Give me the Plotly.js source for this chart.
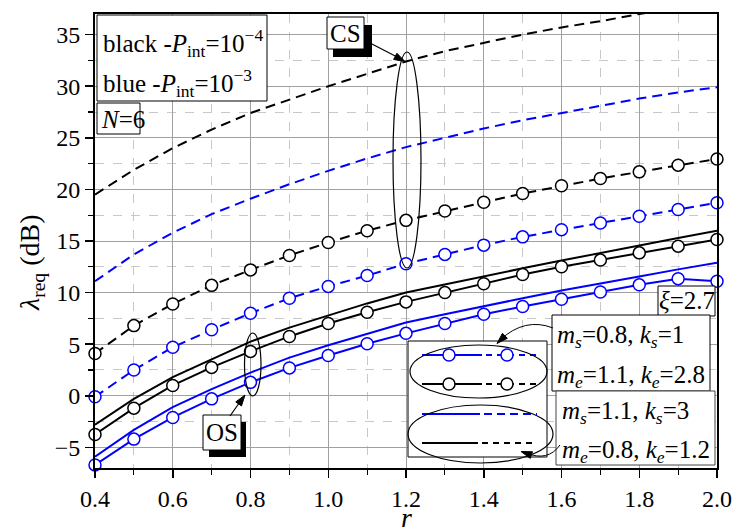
<!DOCTYPE html>
<html>
<head>
<meta charset="utf-8">
<script src="https://cdn.plot.ly/plotly-3.0.1.min.js"></script>
<style>html,body{margin:0;padding:0;background:#fff;}#chart{width:732px;height:532px;}</style>
</head>
<body>
<div id="chart"></div>
<script>
// ---- data ----
const r = [0.4,0.5,0.6,0.7,0.8,0.9,1.0,1.1,1.2,1.3,1.4,1.5,1.6,1.7,1.8,1.9,2.0];
// CS (dashed), m_s=1.1,k_s=3 / m_e=0.8,k_e=1.2 (no markers)
const csBlack = [19.5,21.9,24.0,25.8,27.4,28.7,30.0,31.2,32.4,33.4,34.2,35.0,35.7,36.3,37.0,37.6,38.2];
const csBlue  = [11.1,13.7,15.8,17.6,19.1,20.5,21.8,23.0,24.1,25.0,25.9,26.7,27.4,28.1,28.8,29.4,29.9];
// CS (dashed), m_s=0.8,k_s=1 / m_e=1.1,k_e=2.8 (circles)
const csBlackM = [4.1,6.8,8.9,10.7,12.2,13.6,14.85,16.0,17.0,17.9,18.75,19.6,20.35,21.05,21.7,22.35,22.95];
const csBlueM  = [-0.1,2.5,4.7,6.4,8.0,9.45,10.6,11.65,12.8,13.7,14.6,15.4,16.1,16.75,17.4,18.05,18.7];
// OS (solid)
const osBlack  = [-2.8,-0.3,1.8,3.55,5.25,6.6,7.8,8.95,10.0,10.8,11.6,12.35,13.1,13.85,14.6,15.3,16.0];
const osBlackM = [-3.75,-1.2,1.0,2.75,4.3,5.75,7.0,8.1,9.1,10.0,10.85,11.75,12.5,13.15,13.85,14.5,15.15];
const osBlue   = [-5.9,-3.3,-1.1,0.65,2.25,3.7,4.9,6.0,7.1,7.9,8.7,9.45,10.2,10.85,11.55,12.25,12.9];
const osBlueM  = [-6.7,-4.2,-2.1,-0.3,1.3,2.7,3.9,5.05,6.05,7.0,7.9,8.65,9.35,10.05,10.75,11.35,11.1];

const BLUE = '#0000ff', BLACK = '#000000';
const FONT = 'Liberation Serif';
const DASH = '10px,6px';

// ---- layout geometry helpers (pixel -> paper) ----
const L = 95, T = 14, W = 622, H = 454;
const px = x => (x - L) / W;
const py = y => (T + H - y) / H;

function mk(color) {
  return {symbol:'circle', size:12, color:'#ffffff', line:{color:color, width:1.5}};
}
const traces = [
  {x:r, y:csBlack, mode:'lines', line:{color:BLACK, width:2, dash:DASH}},
  {x:r, y:csBlue, mode:'lines', line:{color:BLUE, width:2, dash:DASH}},
  {x:r, y:osBlack, mode:'lines', line:{color:BLACK, width:2}},
  {x:r, y:osBlue, mode:'lines', line:{color:BLUE, width:2}},
  {x:r, y:csBlackM, mode:'lines+markers', line:{color:BLACK, width:2, dash:DASH}, marker:mk(BLACK), cliponaxis:false},
  {x:r, y:csBlueM, mode:'lines+markers', line:{color:BLUE, width:2, dash:DASH}, marker:mk(BLUE), cliponaxis:false},
  {x:r, y:osBlackM, mode:'lines+markers', line:{color:BLACK, width:2}, marker:mk(BLACK), cliponaxis:false},
  {x:r, y:osBlueM, mode:'lines+markers', line:{color:BLUE, width:2}, marker:mk(BLUE), cliponaxis:false}
].map(t => Object.assign({showlegend:false, hoverinfo:'skip'}, t));

const shapes = [];
function rect(x0,y0,x1,y1,fill,lc,lw){
  shapes.push({type:'rect', xref:'paper', yref:'paper', layer:'above',
    x0:px(x0), x1:px(x1), y0:py(y1), y1:py(y0), fillcolor:fill,
    line:{color:lc||'rgba(0,0,0,0)', width:lc?(lw||1):0}});
}
function ell(x0,y0,x1,y1){
  shapes.push({type:'circle', xref:'paper', yref:'paper', layer:'above',
    x0:px(x0), x1:px(x1), y0:py(y1), y1:py(y0), line:{color:BLACK, width:1.2}});
}
function seg(x0,y0,x1,y1,color,dash,w){
  shapes.push({type:'line', xref:'paper', yref:'paper', layer:'above',
    x0:px(x0), x1:px(x1), y0:py(y0), y1:py(y1), line:{color:color, width:w||2, dash:dash||'solid'}});
}
function dot(cx,cy,color){
  const rr = 6;
  shapes.push({type:'circle', xref:'paper', yref:'paper', layer:'above',
    x0:px(cx-rr), x1:px(cx+rr), y0:py(cy+rr), y1:py(cy-rr), fillcolor:'#ffffff', line:{color:color, width:1.5}});
}
function P(x,y){ return px(x).toFixed(5)+','+py(y).toFixed(5); }
function head(tx,ty,fx,fy){
  const dx = tx-fx, dy = ty-fy, d = Math.hypot(dx,dy), ux = dx/d, uy = dy/d;
  const len = 11, hw = 3.5;
  const bx = tx-ux*len, by = ty-uy*len;
  shapes.push({type:'path', xref:'paper', yref:'paper', layer:'above',
    path:'M'+P(tx,ty)+' L'+P(bx-uy*hw, by+ux*hw)+' L'+P(bx+uy*hw, by-ux*hw)+' Z',
    fillcolor:BLACK, line:{color:BLACK, width:1}});
}
function curve(x0,y0,cx,cy,x1,y1){
  shapes.push({type:'path', xref:'paper', yref:'paper', layer:'above',
    path:'M'+P(x0,y0)+' Q'+P(cx,cy)+' '+P(x1,y1), line:{color:BLACK, width:1}});
}

// P_int box and N=6 box
rect(97,15,267,101,'#ffffff',BLACK,1);
rect(97,103,140,134,'#ffffff',BLACK,1);
// CS label with shadow + arrow + ellipse
ell(393,52,421,268);
rect(333,25,372,57,BLACK);
rect(327,17,364,49,'#ffffff',BLACK,1);
seg(370,43,400,58.5,BLACK,'solid',1.2); head(405,61.5,370,43);
// OS label with shadow + arrow + ellipse
ell(244.5,333,261,396);
rect(209,422,246,457,BLACK);
rect(203,415,241,450,'#ffffff',BLACK,1);
seg(230,416,242,399,BLACK,'solid',1.2); head(245,395,230,416);
// xi box
rect(658,286,715,316,'#ffffff',BLACK,1);
// legend box
rect(408,341,547,457,'#ffffff',BLACK,1);
seg(422,355,482,355,BLUE,'solid',2); seg(486,355,537,355,BLUE,'6px,5px',2);
dot(449,355,BLUE); dot(507,355,BLUE);
seg(422,384,482,384,BLACK,'solid',2); seg(486,384,537,384,BLACK,'6px,5px',2);
dot(449,384,BLACK); dot(507,384,BLACK);
seg(422,414,480,414,BLUE,'solid',2); seg(484,414,537,414,BLUE,'8px,5px',2);
seg(422,443,478,443,BLACK,'solid',2); seg(482,443,537,443,BLACK,'6px,5px',2);
ell(410,345,547,398);
ell(408,405,553,463);
// parameter boxes
rect(552,315,710,391,'#ffffff',BLACK,1);
rect(556,391,715,465,'#ffffff','#444444',1);
curve(553,328,525,317,500,340); head(497,343.5,515,326);
curve(560,445,548,462,526,453); head(521,451.5,540,458);

const tf = (s,c) => ({family:FONT, size:s, color:c||BLACK});
function txt(text,x,y,anchor,size){
  return {text:text, xref:'paper', yref:'paper', x:px(x), y:py(y), xanchor:anchor||'left', yanchor:'middle',
    showarrow:false, font:tf(size||25)};
}
const annotations = [
  txt('black -<i>P</i><sub>int</sub>=10<sup>−4</sup>',101,43),
  txt('blue -<i>P</i><sub>int</sub>=10<sup>−3</sup>',101,83),
  txt('<i>N</i>=6',99,119),
  txt('CS',345.5,33,'center'),
  txt('OS',222,432.5,'center'),
  txt('<i>ξ</i>=2.7',687,301,'center'),
  txt('<i>m</i><sub><i>s</i></sub>=0.8, <i>k</i><sub><i>s</i></sub>=1',555,336),
  txt('<i>m</i><sub><i>e</i></sub>=1.1, <i>k</i><sub><i>e</i></sub>=2.8',555,376),
  txt('<i>m</i><sub><i>s</i></sub>=1.1, <i>k</i><sub><i>s</i></sub>=3',560,412),
  txt('<i>m</i><sub><i>e</i></sub>=0.8, <i>k</i><sub><i>e</i></sub>=1.2',560,451),
  Object.assign(txt('<i>λ</i><sub>req</sub> (dB)',31,263,'center',28), {textangle:-90}),
  txt('<i>r</i>',406,517,'center',28)
];

const axisCommon = {
  showline:true, linecolor:BLACK, linewidth:2, mirror:true,
  ticks:'outside', ticklen:8, tickwidth:1.5, tickcolor:BLACK,
  showgrid:true, gridcolor:'#a0a0a0', gridwidth:1, zeroline:false,
  tickfont:tf(24), automargin:false
};
const layout = {
  width:732, height:532,
  margin:{l:L, r:732-L-W, t:T, b:532-T-H, pad:0},
  paper_bgcolor:'#ffffff', plot_bgcolor:'#ffffff',
  font:{family:FONT, color:BLACK},
  showlegend:false,
  xaxis:Object.assign({}, axisCommon, {
    range:[0.4,2.0], tick0:0.4, dtick:0.2, tickformat:'.1f',
    minor:{dtick:0.1, tick0:0.4, ticks:'outside', ticklen:5, tickwidth:1.2, tickcolor:BLACK,
           showgrid:true, gridcolor:'#c8c8c8', gridwidth:1, griddash:'dash'}
  }),
  yaxis:Object.assign({}, axisCommon, {
    range:[-7,37], tick0:0, dtick:5,
    minor:{dtick:2.5, tick0:0, ticks:'outside', ticklen:5, tickwidth:1.2, tickcolor:BLACK,
           showgrid:true, gridcolor:'#c8c8c8', gridwidth:1, griddash:'dash'}
  }),
  shapes:shapes,
  annotations:annotations
};
Plotly.newPlot('chart', traces, layout, {staticPlot:true, displayModeBar:false});
</script>
</body>
</html>
